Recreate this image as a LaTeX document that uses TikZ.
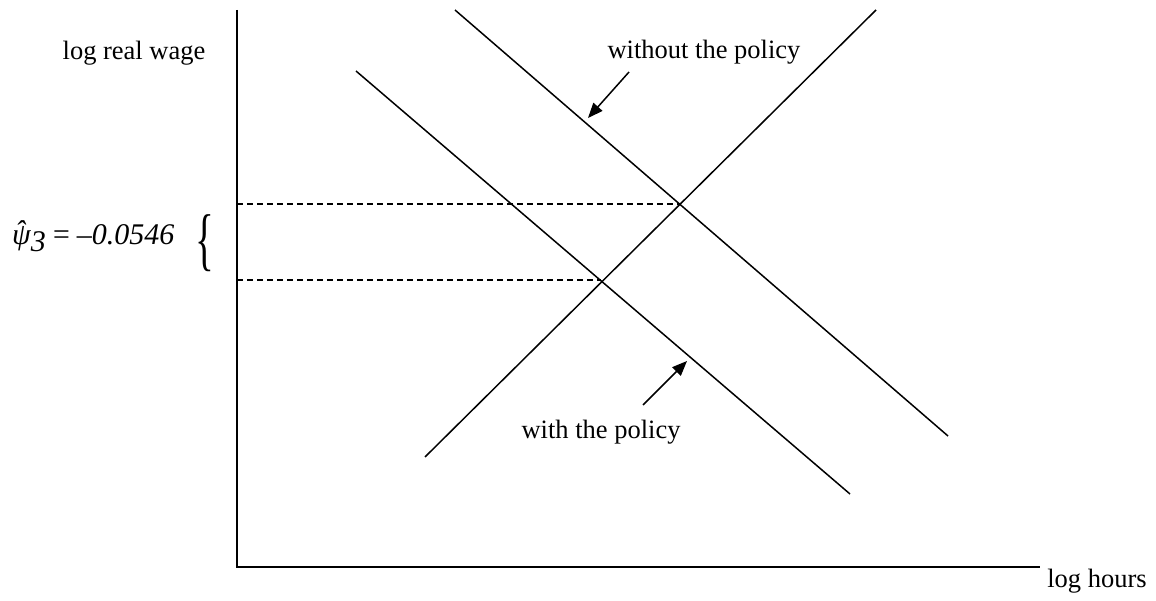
\documentclass[tikz,border=0pt]{standalone}
\usepackage{fontspec}
\setmainfont{Liberation Serif}
\usepackage{graphicx}
\usetikzlibrary{arrows.meta}
\begin{document}
\begin{tikzpicture}[x=1pt,y=-1pt,
  curve/.style={line width=1.5pt},
  axis/.style={line width=1.6pt},
  guide/.style={line width=1.4pt,dash pattern=on 6pt off 4pt},
  pointer/.style={line width=1.5pt,-{Triangle[length=15pt,width=12pt]}},
  lbl/.style={font=\fontsize{26.5}{30}\selectfont,inner sep=0pt,anchor=base}]
\useasboundingbox (0,0) rectangle (1156,601);
% axes
\coordinate (O) at (237,567);
\coordinate (Ytop) at (237,10);
\coordinate (Xend) at (1040,567);
\draw[axis] (Ytop) -- (O) -- (Xend);
% curves
\coordinate (S1) at (425,457);
\coordinate (S2) at (876,10);
\coordinate (D1a) at (455,10);
\coordinate (D1b) at (948,436);
\coordinate (D2a) at (356,71);
\coordinate (D2b) at (850,494);
\draw[curve] (S1) -- (S2);
\draw[curve] (D1a) -- (D1b);
\draw[curve] (D2a) -- (D2b);
% equilibria guides
\coordinate (E1) at (680,204);
\coordinate (E2) at (601,280);
\coordinate (Y1) at (237,204);
\coordinate (Y2) at (237,280);
\draw[guide] (Y1) -- (E1);
\draw[guide] (Y2) -- (E2);
% labels
\node[lbl] (ylab) at (134,60) {log real wage};
\node[lbl] (xlab) at (1097,587) {log hours};
\node[lbl] (wo) at (704,59) {without the policy};
\node[lbl] (wi) at (601,438) {with the policy};
\coordinate (woT) at (629,72);
\coordinate (woH) at (588,118);
\coordinate (wiT) at (643,405);
\coordinate (wiH) at (687,361);
\draw[pointer] (woT) -- (woH);
\draw[pointer] (wiT) -- (wiH);
\node[inner sep=0pt,anchor=base west,font=\fontsize{30}{34}\selectfont\itshape] (psi) at (12,245) {\makebox[0pt][l]{\hspace{0.1em}\raisebox{0.12em}{ˆ}}ψ\raisebox{-0.22em}{3}\hspace{0.18em}=\hspace{0.18em}–0.0546};
\node[inner sep=0pt,font=\fontsize{30}{34}\selectfont] (brace) at (205,243) {\scalebox{1.3}[2.3]{\{}};
\end{tikzpicture}
\end{document}
